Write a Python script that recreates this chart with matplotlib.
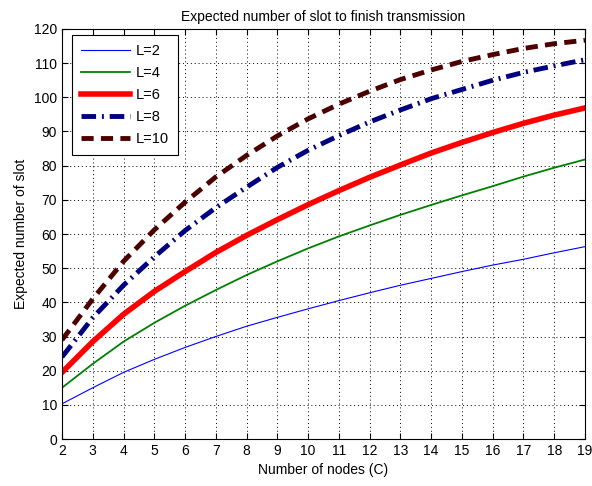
import matplotlib
matplotlib.use("Agg")
import matplotlib.pyplot as plt

nodes = [2, 3, 4, 5, 6, 7, 8, 9, 10, 11, 12, 13, 14, 15, 16, 17, 18, 19]
L2 = [10.3, 15, 19.5, 23.3, 26.8, 30, 33, 35.6, 38.1, 40.5, 42.8, 45, 47, 49, 50.9, 52.6, 54.5, 56.3]
L4 = [15, 22, 28.5, 34, 39, 43.6, 48, 52, 55.8, 59.3, 62.5, 65.6, 68.5, 71.3, 74, 76.8, 79.4, 81.8]
L6 = [19.5, 28.5, 36.5, 43.2, 49, 54.6, 59.6, 64.2, 68.6, 72.7, 76.6, 80.2, 83.7, 86.8, 89.7, 92.4, 94.8, 96.9]
L8 = [24, 35.5, 45, 53.3, 61, 67.7, 73.7, 79.5, 84.5, 88.8, 92.8, 96.3, 99.6, 102.3, 105, 107.3, 109.2, 111]
L10 = [29, 41, 52, 61.2, 69.3, 76.7, 83, 88.7, 93.7, 98, 101.8, 105.2, 108, 110.5, 112.5, 114.3, 115.7, 116.7]

labels = ["L=2", "L=4", "L=6", "L=8", "L=10"]
yticks = list(range(0, 121, 10))

plt.rcParams['font.family'] = ['Liberation Sans', 'DejaVu Sans']
fig = plt.figure(figsize=(5.92, 4.86), dpi=100)
ax = fig.add_axes([62/592, 47/486, 523/592, 410/486])

ax.plot(nodes, L2, color='blue', lw=0.8, label=labels[0])
ax.plot(nodes, L4, color=(0, 0.5, 0), lw=1.3, label=labels[1])
ax.plot(nodes, L6, color='red', lw=4, label=labels[2])
ax.plot(nodes, L8, color=(0, 0, 0.5), lw=3.5, linestyle=(0, (3.0, 1.2, 0.4, 1.2)), label=labels[3])
ax.plot(nodes, L10, color=(0.3, 0, 0), lw=3.5, linestyle=(0, (2.5, 1.5)), label=labels[4])

ax.set_xlim(2, 19)
ax.set_ylim(0, 120)
ax.set_xticks(nodes)
ax.set_yticks(yticks)
ax.tick_params(direction='in', labelsize=10, length=4, top=True, right=True)
ax.grid(True, color='black', linestyle=(0, (1, 3)), lw=0.7)
ax.set_xlabel('Number of nodes (C)', fontsize=10)
ax.set_ylabel('Expected number of slot', fontsize=10)
ax.set_title('Expected number of slot to finish transmission', fontsize=10)

leg = ax.legend(loc='upper left', fontsize=10.5, fancybox=False, framealpha=1,
                edgecolor='black', handlelength=3.4, labelspacing=0.55, borderpad=0.6,
                handletextpad=0.4, borderaxespad=0,
                bbox_to_anchor=(72/592, 1 - 35/486), bbox_transform=fig.transFigure)
leg.get_frame().set_linewidth(0.8)

fig.savefig('out.png', dpi=100)
